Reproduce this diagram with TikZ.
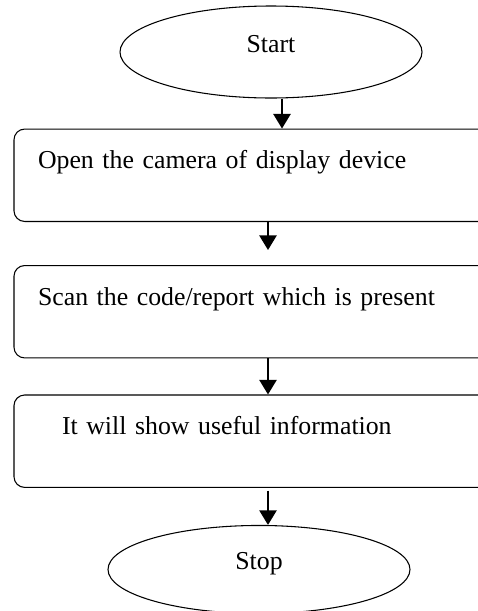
\documentclass[tikz,border=0pt]{standalone}
\usepackage{fontspec}
\setmainfont{Liberation Serif}
\usetikzlibrary{positioning,shapes.geometric,arrows.meta}

\tikzset{
  terminal/.style={draw, ellipse, line width=0.8pt, inner sep=0pt,
    minimum width=226.5pt, minimum height=69pt, text height=10pt, text depth=10pt},
  process/.style={draw, rectangle, rounded corners=8pt, line width=0.8pt,
    inner xsep=18pt, inner ysep=0pt, text width=345pt, align=left,
    text height=29.6pt, text depth=39.7pt},
  flow/.style={-{Triangle[width=13pt,length=11pt]}, line width=1.3pt},
}

\begin{document}
\begin{tikzpicture}[font=\fontsize{19.35}{23}\selectfont]
  \clip (0,0) rectangle (358.5pt,-458.25pt);
  \node[terminal] (start) at (203.25pt,-39pt) {Start};
  \node[process, below=22.5pt of start, xshift=-2.25pt] (open) {Open the camera of display device};
  \node[process, below=32.25pt of open] (scan) {Scan the code/report which is present};
  \node[process, below=27pt of scan, inner xsep=36pt, text width=309pt] (show) {It will show useful information};
  \node[terminal, below=27.75pt of show, xshift=-6.75pt, minimum height=66pt] (stop) {Stop};

  \draw[flow] ([xshift=8.25pt]start.south) -- ([xshift=8.25pt]start.south |- open.north);
  \draw[flow, shorten >=11.25pt] (open) -- (scan);
  \draw[flow] (scan) -- (show);
  \draw[flow, shorten <=2pt] (show.south) -- (show.south |- stop.north);
\end{tikzpicture}
\end{document}
